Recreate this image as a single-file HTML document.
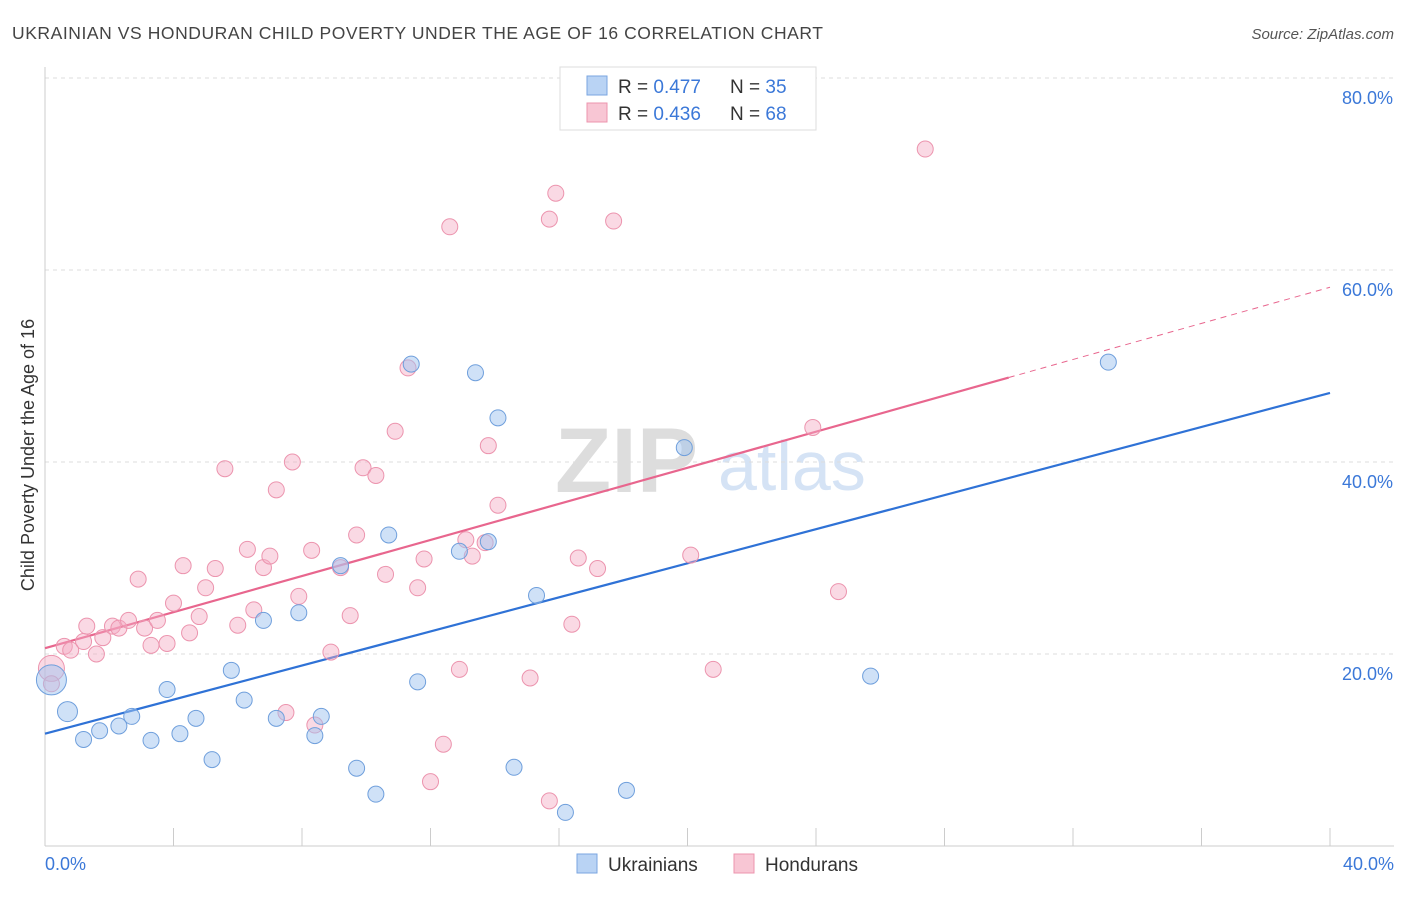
<!DOCTYPE html>
<html><head><meta charset="utf-8"><style>
body{margin:0;background:#fff;font-family:"Liberation Sans",sans-serif;}
svg text{font-family:"Liberation Sans",sans-serif;}
</style></head><body>
<svg id="chart" width="1406" height="892" xmlns="http://www.w3.org/2000/svg">
<text x="12" y="39" font-size="17.5" fill="#444" textLength="811" lengthAdjust="spacing">UKRAINIAN VS HONDURAN CHILD POVERTY UNDER THE AGE OF 16 CORRELATION CHART</text>
<text x="1394" y="39" font-size="15" fill="#555" text-anchor="end" font-style="italic">Source: ZipAtlas.com</text>
<text x="555" y="492" font-size="92" fill="#ddd" font-family="Liberation Serif" font-weight="bold">ZIP</text>
<text x="718" y="490" font-size="70" fill="#d5e3f5">atlas</text>
<g id="grid"></g>
<g id="axes"></g>
<g id="lines"></g>
<g id="points"></g>
<text transform="translate(34,455) rotate(-90)" font-size="18" fill="#333" text-anchor="middle">Child Poverty Under the Age of 16</text>
<g>
<rect x="560" y="67" width="256" height="63" fill="#fff" stroke="#ddd"/>
<rect x="587" y="76" width="20" height="19" fill="#b9d3f4" stroke="#7aa6e0"/>
<text x="618" y="93" font-size="19" fill="#333">R = <tspan fill="#3b78d8">0.477</tspan></text>
<text x="730" y="93" font-size="19" fill="#333">N = <tspan fill="#3b78d8">35</tspan></text>
<rect x="587" y="103" width="20" height="19" fill="#f8c6d4" stroke="#ec94ae"/>
<text x="618" y="120" font-size="19" fill="#333">R = <tspan fill="#3b78d8">0.436</tspan></text>
<text x="730" y="120" font-size="19" fill="#333">N = <tspan fill="#3b78d8">68</tspan></text>
</g>
<g>
<rect x="577" y="854" width="20" height="19" fill="#b9d3f4" stroke="#7aa6e0"/>
<text x="608" y="871" font-size="19" fill="#333">Ukrainians</text>
<rect x="734" y="854" width="20" height="19" fill="#f8c6d4" stroke="#ec94ae"/>
<text x="765" y="871" font-size="19" fill="#333">Hondurans</text>
</g>
</svg>
<script>
const ukrX=[0.2,0.7,1.2,1.7,2.3,2.7,3.3,3.8,4.2,4.7,5.2,5.8,6.2,6.8,7.2,7.9,8.4,8.6,9.2,9.7,10.3,10.7,11.4,11.6,12.9,13.4,13.8,14.1,14.6,15.3,16.2,18.1,19.9,25.7,33.1];
const ukrY=[17.3,14.0,11.1,12.0,12.5,13.5,11.0,16.3,11.7,13.3,9.0,18.3,15.2,23.5,13.3,24.3,11.5,13.5,29.2,8.1,5.4,32.4,50.2,17.1,30.7,49.3,31.7,44.6,8.2,26.1,3.5,5.8,41.5,17.7,50.4];
const honX=[0.2,0.2,0.6,0.8,1.2,1.6,1.3,1.8,2.1,2.3,2.6,2.9,3.1,3.3,3.5,3.8,4.0,4.3,4.5,4.8,5.0,5.3,5.6,6.0,6.3,6.5,6.8,7.0,7.2,7.5,7.7,7.9,8.3,8.4,8.9,9.2,9.5,9.7,9.9,10.3,10.6,10.9,11.3,11.6,11.8,12.4,12.0,12.6,12.9,13.1,13.3,13.7,13.8,14.1,15.1,15.7,15.7,15.9,16.4,16.6,17.2,17.7,20.1,20.8,23.9,24.7,27.4];
const honY=[18.5,16.9,20.8,20.4,21.3,20.0,22.9,21.7,22.9,22.7,23.5,27.8,22.7,20.9,23.5,21.1,25.3,29.2,22.2,23.9,26.9,28.9,39.3,23.0,30.9,24.6,29.0,30.2,37.1,13.9,40.0,26.0,30.8,12.6,20.2,29.0,24.0,32.4,39.4,38.6,28.3,43.2,49.8,26.9,29.9,10.6,6.7,64.5,18.4,31.9,30.2,31.6,41.7,35.5,17.5,4.7,65.3,68.0,23.1,30.0,28.9,65.1,30.3,18.4,43.6,26.5,72.6];
const ukrTrend=[11.7,47.2];
const honTrend=[20.6,58.2];
const yTicks=[20,40,60,80];
const yTickLabels=["20.0%","40.0%","60.0%","80.0%"];
const xTicks=[0,4,8,12,16,20,24,28,32,36,40];
const NS="http://www.w3.org/2000/svg";
const sx=v=>45+v*32.125, sy=v=>846-v*9.6;
function mk(parent,tag,attrs){const e=document.createElementNS(NS,tag);for(const k in attrs)e.setAttribute(k,attrs[k]);document.getElementById(parent).appendChild(e);return e;}
yTicks.forEach((t,i)=>{
  const l=mk('grid','line',{x1:45,x2:1394,y1:sy(t),y2:sy(t),stroke:'#ddd','stroke-dasharray':'4,4'});
  
  
  const tx=mk('grid','text',{x:1393,y:sy(t)+26,'font-size':18,fill:'#3b78d8','text-anchor':'end'});
  tx.textContent=yTickLabels[i];
  
  
});
let a=mk('axes','line',{x1:45,x2:45,y1:67,y2:846,stroke:'#ccc'});


a=mk('axes','line',{x1:45,x2:1394,y1:846,y2:846,stroke:'#ccc'});


xTicks.forEach(t=>{const l=mk('axes','line',{x1:sx(t),x2:sx(t),y1:828,y2:846,stroke:'#ccc'});

});
let t0=mk('axes','text',{x:45,y:870,'font-size':18,fill:'#3b78d8'});t0.textContent='0.0%';


let t1=mk('axes','text',{x:1394,y:870,'font-size':18,fill:'#3b78d8','text-anchor':'end'});t1.textContent='40.0%';


let bl=mk('lines','line',{x1:sx(0),y1:sy(ukrTrend[0]),x2:sx(40),y2:sy(ukrTrend[1]),stroke:'#2f72d6','stroke-width':2.2});


const hAt=x=>honTrend[0]+(honTrend[1]-honTrend[0])*x/40;
let pl=mk('lines','line',{x1:sx(0),y1:sy(hAt(0)),x2:sx(30),y2:sy(hAt(30)),stroke:'#e8668e','stroke-width':2.2});


let pd=mk('lines','line',{x1:sx(30),y1:sy(hAt(30)),x2:sx(40),y2:sy(hAt(40)),stroke:'#e8668e','stroke-width':1,'stroke-dasharray':'6,5'});


honX.forEach((x,i)=>{const c=mk('points','circle',{cx:sx(x),cy:sy(honY[i]),r:i==0?13:8,fill:'rgba(245,170,195,0.45)',stroke:'#ec94ae','stroke-width':1});

});
ukrX.forEach((x,i)=>{const c=mk('points','circle',{cx:sx(x),cy:sy(ukrY[i]),r:i==0?15:(i==1?10:8),fill:'rgba(160,196,240,0.5)',stroke:'#6f9fdc','stroke-width':1});

});
</script>
</body></html>
